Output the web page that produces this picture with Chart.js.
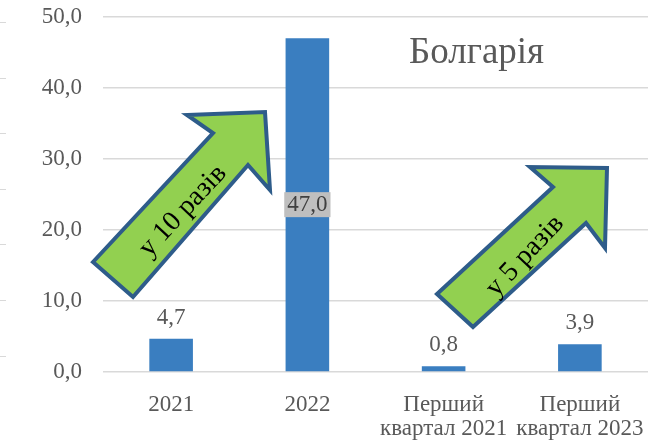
<!DOCTYPE html>
<html>
<head>
<meta charset="utf-8">
<script src="https://cdn.jsdelivr.net/npm/chart.js@4/dist/chart.umd.min.js"></script>
<style>
  html, body { margin: 0; padding: 0; background: #fff; }
  #wrap { width: 648px; height: 441px; position: relative; }
</style>
</head>
<body>
<div id="wrap"><canvas id="chart"></canvas></div>
<script>
// Дані
const categories = ['2021', '2022', ['Перший', 'квартал 2021'], ['Перший', 'квартал 2023']];
const values = [4.7, 47.0, 0.8, 3.9];
const yTicks = [0, 10, 20, 30, 40, 50];
const chartTitle = 'Болгарія';
const arrowTexts = ['у 10 разів', 'у 5 разів'];

const serif = '"Liberation Serif", "Times New Roman", serif';
const grey = '#595959';

function fmt(v) {
    return v.toFixed(1).replace('.', ',');
}

// Підписи значень
const valueLabels = {
    id: 'valueLabels',
    afterDatasetsDraw(chart) {
        const ctx = chart.ctx;
        const meta = chart.getDatasetMeta(0);
        const yScale = chart.scales.y;
        ctx.save();
        ctx.font = '23px ' + serif;
        ctx.textAlign = 'center';
        meta.data.forEach((bar, i) => {
            const v = values[i];
            const text = fmt(v);
            if (v > 20) {
                // всередині стовпця, на сірому фоні
                const cy = yScale.getPixelForValue(v / 2);
                const w = ctx.measureText(text).width + 6;
                ctx.fillStyle = '#BFBFBF';
                ctx.fillRect(bar.x - w / 2, cy - 13, w, 25);
                ctx.fillStyle = '#404040';
                ctx.textBaseline = 'middle';
                ctx.fillText(text, bar.x, cy);
            } else {
                ctx.fillStyle = grey;
                ctx.textBaseline = 'alphabetic';
                ctx.fillText(text, bar.x, bar.y - 15);
            }
        });
        ctx.restore();
    }
};

// Стрілки та заголовок
function drawArrow(ctx, pts, text, tx, ty) {
    ctx.beginPath();
    ctx.moveTo(pts[0][0], pts[0][1]);
    pts.slice(1).forEach(p => ctx.lineTo(p[0], p[1]));
    ctx.closePath();
    ctx.fillStyle = '#92D050';
    ctx.fill();
    ctx.lineWidth = 4;
    ctx.lineJoin = 'miter';
    ctx.strokeStyle = '#2E5C8A';
    ctx.stroke();

    ctx.save();
    ctx.translate(tx, ty);
    ctx.rotate(-47 * Math.PI / 180);
    ctx.font = '28px ' + serif;
    ctx.fillStyle = '#000';
    ctx.textAlign = 'center';
    ctx.textBaseline = 'middle';
    ctx.fillText(text, 0, 0);
    ctx.restore();
}

const decorations = {
    id: 'decorations',
    afterDraw(chart) {
        const ctx = chart.ctx;
        ctx.save();

        // обрізані лінії сусідньої діаграми зліва
        ctx.strokeStyle = '#D9D9D9';
        ctx.lineWidth = 1;
        [22, 78, 133, 189, 244, 300, 356].forEach(y => {
            ctx.beginPath();
            ctx.moveTo(0, y + 0.5);
            ctx.lineTo(6, y + 0.5);
            ctx.stroke();
        });

        ctx.font = '37px ' + serif;
        ctx.fillStyle = grey;
        ctx.textAlign = 'left';
        ctx.textBaseline = 'alphabetic';
        ctx.fillText(chartTitle, 409, 63);

        drawArrow(ctx, [[93, 262], [133, 297], [248, 165], [270, 190], [265, 112], [187, 115], [213, 133]],
            arrowTexts[0], 183, 211);
        drawArrow(ctx, [[437, 294], [473, 327], [586, 223], [605, 248], [607, 168], [530, 167], [553, 187]],
            arrowTexts[1], 525, 256);
        ctx.restore();
    }
};

new Chart(document.getElementById('chart'), {
    type: 'bar',
    data: {
        labels: categories,
        datasets: [{
            data: values,
            backgroundColor: '#3A7EC0',
            barPercentage: 0.32,
            categoryPercentage: 1.0
        }]
    },
    options: {
        responsive: true,
        maintainAspectRatio: false,
        animation: false,
        layout: { padding: { left: 0, right: -5, top: 17, bottom: 0 } },
        plugins: {
            legend: { display: false },
            tooltip: { enabled: false }
        },
        scales: {
            x: {
                grid: { display: false, drawTicks: false },
                border: { display: false },
                ticks: {
                    color: grey,
                    font: { family: serif, size: 23, lineHeight: 1.05 },
                    padding: 21,
                    maxRotation: 0,
                    autoSkip: false
                },
                afterFit(scale) {
                    scale.height = 69;
                    scale.paddingLeft = 0;
                    scale.paddingRight = 0;
                }
            },
            y: {
                min: 0,
                max: 50,
                afterBuildTicks(scale) {
                    scale.ticks = yTicks.map(v => ({ value: v }));
                },
                grid: { color: '#D9D9D9', lineWidth: 1.5, drawTicks: false },
                border: { display: false },
                ticks: {
                    color: grey,
                    font: { family: serif, size: 23 },
                    padding: 21,
                    callback: v => fmt(v)
                },
                afterFit(scale) {
                    scale.width = 103;
                    scale.paddingTop = 0;
                    scale.paddingBottom = 0;
                }
            }
        }
    },
    plugins: [valueLabels, decorations]
});
</script>
</body>
</html>
